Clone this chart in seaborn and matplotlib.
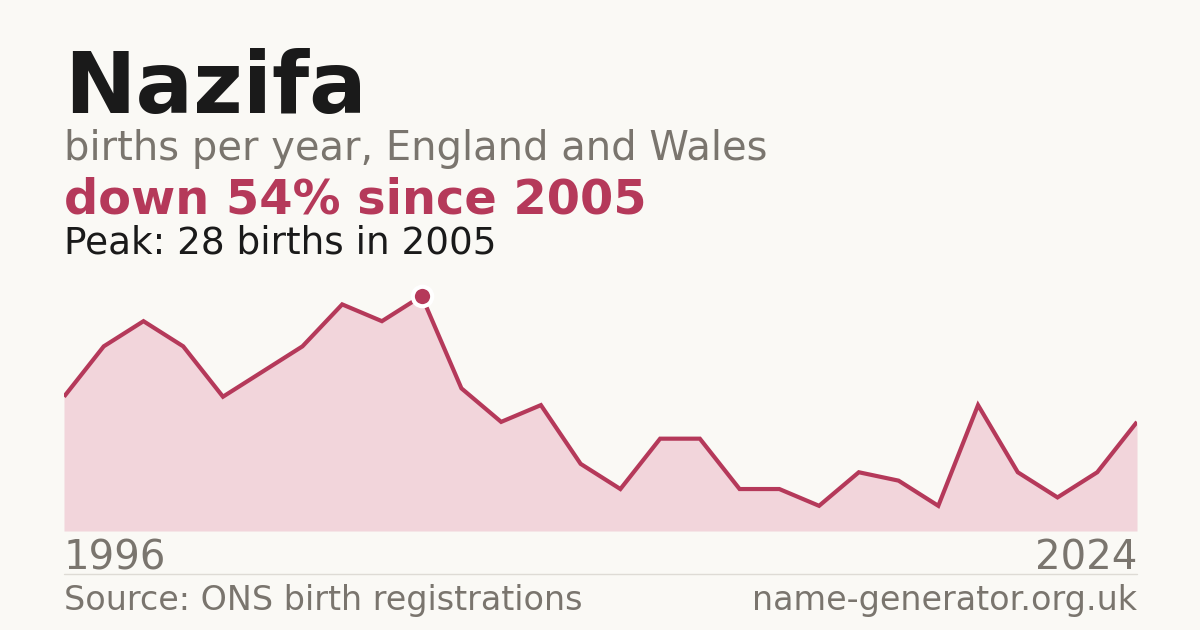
import numpy as np
import pandas as pd
import matplotlib
matplotlib.use("Agg")
import matplotlib.pyplot as plt
import seaborn as sns

# Births per year for the name (one point per published year, 1996 -> 2024)
births = [16, 22, 25, 22, 16, 19, 22, 27, 25, 28, 17, 13, 15, 8, 5,
          11, 11, 5, 5, 3, 7, 6, 3, 15, 7, 4, 7, 13]
first_year = "1996"
last_year = "2024"
peak_births = 28
peak_year = "2005"

BG = "#faf9f5"
RED = "#b5395a"
FILL = "#f2d5db"
GREY = "#7a756e"
DARK = "#1a1a1a"

sns.set_theme(style="white")
plt.rcParams["font.family"] = ["DejaVu Sans"]

df = pd.DataFrame({"idx": np.arange(len(births)), "births": births})

fig = plt.figure(figsize=(12, 6.3), dpi=100, facecolor=BG)

# plot area: x 64..1137 px, y 296..531 px (top = peak value)
ax = fig.add_axes([64 / 1200, (630 - 531) / 630, 1073 / 1200, 235 / 630])
ax.set_facecolor(BG)
ax.fill_between(df["idx"], df["births"], 0, color=FILL, linewidth=0)
sns.lineplot(data=df, x="idx", y="births", ax=ax, color=RED, linewidth=3,
             solid_capstyle="butt", solid_joinstyle="miter")
pk = df["births"].idxmax()
ax.plot(df["idx"][pk], df["births"][pk], "o", color=RED, markersize=14,
        markeredgecolor="white", markeredgewidth=3, clip_on=False, zorder=5)
ax.set_xlim(0, len(births) - 1)
ax.set_ylim(0, peak_births)
ax.axis("off")

# headline texts
def px(x, y):
    return x / 1200, 1 - y / 630

fig.text(*px(64, 113), "Nazifa", fontsize=61.5, fontweight="bold", color=DARK)
fig.text(*px(64, 160), "births per year, England and Wales", fontsize=28.8, color=GREY)
drop = round((1 - births[-1] / peak_births) * 100)
fig.text(*px(64, 214), f"down {drop}% since {peak_year}", fontsize=34.5,
         fontweight="bold", color=RED)
fig.text(*px(64, 253), f"Peak: {peak_births} births in {peak_year}", fontsize=26.9, color=DARK)

# year labels
fig.text(*px(64, 570), first_year, fontsize=29, color=GREY)
fig.text(*px(1137, 570), last_year, fontsize=29, color=GREY, ha="right")

# separator
fig.add_artist(plt.Line2D([64 / 1200, 1137 / 1200], [1 - 574 / 630] * 2,
                          color="#dedbd5", linewidth=1))

fig.text(*px(64, 610), "Source: ONS birth registrations", fontsize=24, color=GREY)
fig.text(*px(1137, 610), "name-generator.org.uk", fontsize=24, color=GREY, ha="right")

fig.savefig("out.png", dpi=100, facecolor=BG)
